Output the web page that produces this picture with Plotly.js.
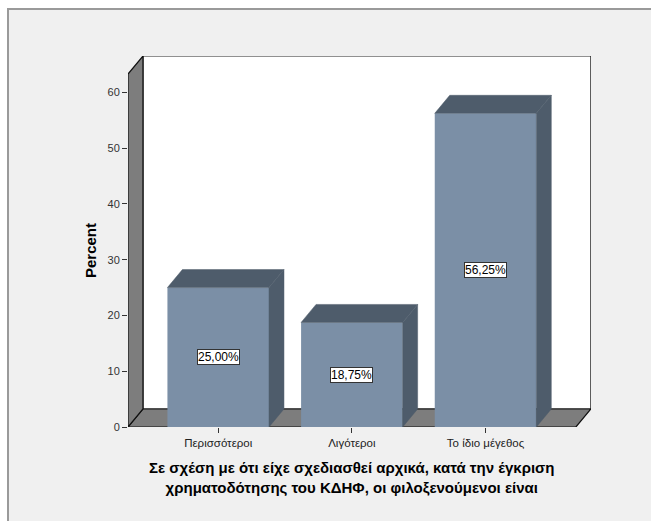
<!DOCTYPE html>
<html>
<head>
<meta charset="utf-8">
<script src="https://cdn.plot.ly/plotly-3.0.1.min.js"></script>
<style>
  html, body { margin: 0; padding: 0; background: #ffffff; width: 651px; height: 521px; overflow: hidden; }
  #frame { position: absolute; left: 7px; top: 8px; width: 700px; height: 600px; background: #f0f0f0;
           border-left: 2px solid #9a9a9a; border-top: 2px solid #9a9a9a; box-sizing: border-box; }
  #chart { position: absolute; left: 0; top: 0; width: 651px; height: 521px; }
</style>
</head>
<body>
<div id="frame"></div>
<div id="chart"></div>
<script>
// ---- data ----
const categories = ['Περισσότεροι', 'Λιγότεροι', 'Το ίδιο μέγεθος'];
const percents = [25.00, 18.75, 56.25];
const yTickValues = [0, 10, 20, 30, 40, 50, 60];
const xTitleLines = ['Σε σχέση με ότι είχε σχεδιασθεί αρχικά, κατά την έγκριση',
                     'χρηματοδότησης του ΚΔΗΦ, οι φιλοξενούμενοι είναι'];
const yTitle = 'Percent';

// ---- styling / geometry (in axis units) ----
const barWidth = 0.76;
const depthX = 0.112;     // 3D depth offset along x
const depthY = 3.23;      // 3D depth offset along y
const xFrontMin = -0.675, xFrontMax = 2.676;
const yFrontTop = 63.3;
const frontColor = '#7b8fa6';
const darkColor = '#4e5c6b';
const wallColor = '#7d7d7d';
const fontFam = 'Liberation Sans, Arial, sans-serif';

const xs = categories.map((c, i) => i);

const traces = [];
traces.push({
  type: 'bar', x: xs, y: percents, width: barWidth,
  marker: { color: frontColor, line: { width: 0 } },
  hoverinfo: 'skip', showlegend: false
});
xs.forEach((x, i) => {
  const v = percents[i];
  const l = x - barWidth / 2, r = x + barWidth / 2;
  traces.push({
    type: 'scatter', mode: 'lines', fill: 'toself', fillcolor: darkColor,
    line: { width: 0.5, color: darkColor },
    x: [l, l + depthX, r + depthX, r, l],
    y: [v, v + depthY, v + depthY, v, v],
    hoverinfo: 'skip', showlegend: false
  });
  traces.push({
    type: 'scatter', mode: 'lines', fill: 'toself', fillcolor: darkColor,
    line: { width: 0.5, color: darkColor },
    x: [r, r + depthX, r + depthX, r, r],
    y: [0, depthY, v + depthY, v, 0],
    hoverinfo: 'skip', showlegend: false
  });
});

const shapes = [
  // back wall
  { type: 'rect', layer: 'below', xref: 'x', yref: 'y',
    x0: xFrontMin + depthX, x1: xFrontMax + depthX, y0: depthY, y1: yFrontTop + depthY,
    fillcolor: '#ffffff', line: { color: '#222222', width: 1.2 } },
  // floor
  { type: 'path', layer: 'below', xref: 'x', yref: 'y',
    path: `M ${xFrontMin} 0 L ${xFrontMax} 0 L ${xFrontMax + depthX} ${depthY} L ${xFrontMin + depthX} ${depthY} Z`,
    fillcolor: wallColor, line: { color: '#111111', width: 1.2 } },
  // side wall
  { type: 'path', layer: 'below', xref: 'x', yref: 'y',
    path: `M ${xFrontMin} 0 L ${xFrontMin + depthX} ${depthY} L ${xFrontMin + depthX} ${yFrontTop + depthY} L ${xFrontMin} ${yFrontTop} Z`,
    fillcolor: wallColor, line: { color: '#111111', width: 1.2 } }
];

const annotations = percents.map((v, i) => ({
  x: xs[i], y: v / 2, xref: 'x', yref: 'y',
  text: v.toFixed(2).replace('.', ',') + '%',
  showarrow: false, bgcolor: '#ffffff', bordercolor: '#333333', borderwidth: 1, borderpad: 0,
  font: { family: fontFam, size: 12, color: '#000000' }
}));
annotations.push({
  x: 1, xref: 'x', y: -0.082, yref: 'paper', yanchor: 'top', xanchor: 'center',
  text: '<b>' + xTitleLines.join('<br>') + '</b>', showarrow: false,
  font: { family: fontFam, size: 15, color: '#000000' }
});
annotations.push({
  x: -0.081, xref: 'paper', y: yFrontTop / 2, yref: 'y', textangle: -90,
  xanchor: 'center', yanchor: 'middle',
  text: '<b>' + yTitle + '</b>', showarrow: false,
  font: { family: fontFam, size: 15, color: '#000000' }
});

const layout = {
  width: 651, height: 521,
  margin: { l: 128, r: 60, t: 56, b: 94 },
  paper_bgcolor: 'rgba(0,0,0,0)', plot_bgcolor: 'rgba(0,0,0,0)',
  showlegend: false,
  xaxis: {
    type: 'linear', range: [xFrontMin, xFrontMax + depthX + 0.001],
    tickvals: xs, ticktext: categories,
    ticks: 'outside', ticklen: 5, tickcolor: '#333333', tickwidth: 1,
    showline: false, zeroline: false, showgrid: false, fixedrange: true,
    tickfont: { family: fontFam, size: 11.5, color: '#222222' }
  },
  yaxis: {
    range: [0, yFrontTop + depthY],
    tickvals: yTickValues,
    ticks: 'outside', ticklen: 5, tickcolor: '#333333', tickwidth: 1,
    showline: false, zeroline: false, showgrid: false, fixedrange: true,
    tickfont: { family: fontFam, size: 11, color: '#333333' }
  },
  shapes: shapes,
  annotations: annotations
};

Plotly.newPlot('chart', traces, layout, { displayModeBar: false, staticPlot: true });
</script>
</body>
</html>
